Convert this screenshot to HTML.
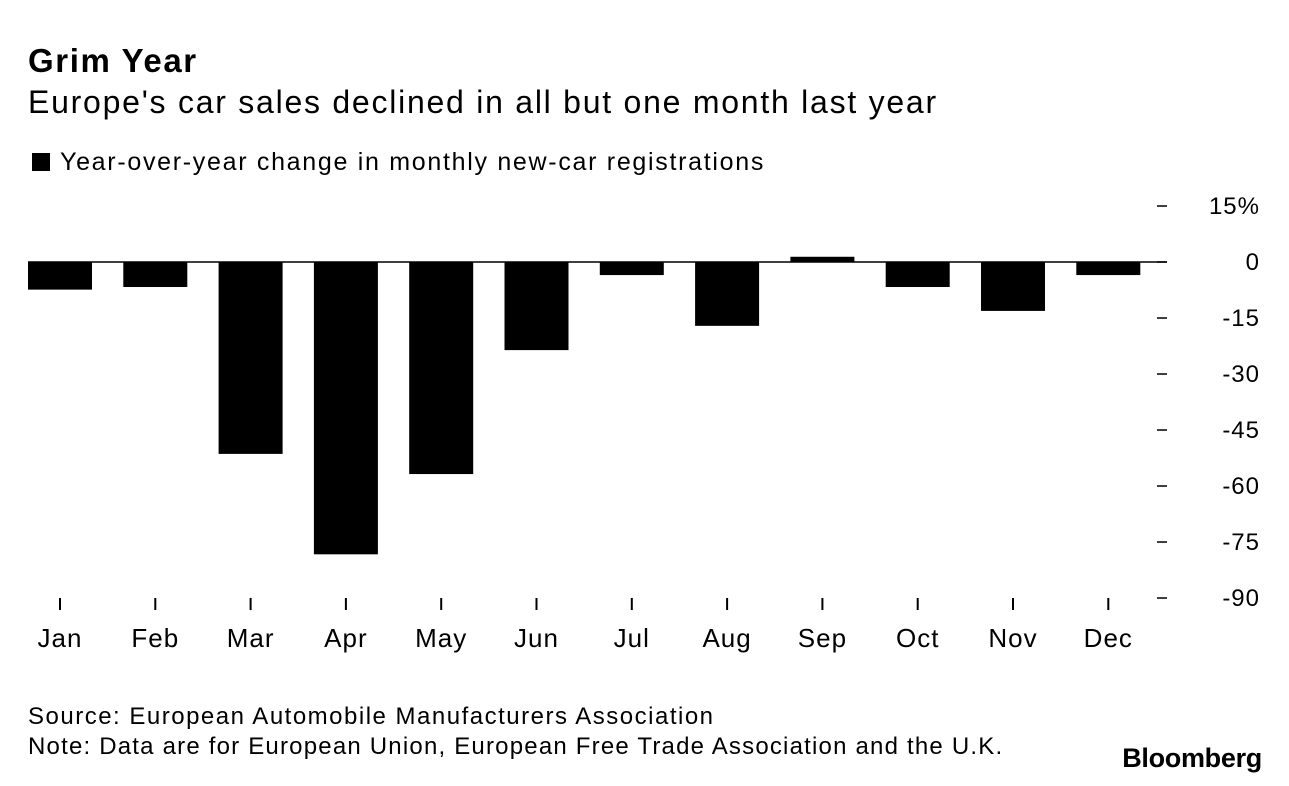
<!DOCTYPE html>
<html><head><meta charset="utf-8">
<style>
body{margin:0;background:#fff;width:1289px;height:786px;overflow:hidden;font-family:"Liberation Sans",sans-serif;color:#000}
.t{position:absolute;white-space:nowrap}
</style></head><body>
<div class="t" style="left:28px;top:42px;font-size:33px;font-weight:bold;letter-spacing:1.6px">Grim Year</div>
<div class="t" style="left:28px;top:84px;font-size:32px;letter-spacing:1.75px">Europe's car sales declined in all but one month last year</div>
<div class="t" style="left:32px;top:148px;font-size:25px;letter-spacing:1.7px"><span style="display:inline-block;width:18px;height:18px;background:#000;vertical-align:-1px;margin-right:10px"></span>Year-over-year change in monthly new-car registrations</div>
<svg id="chart" width="1289" height="786" style="position:absolute;left:0;top:0"></svg>
<div class="t" style="left:28px;top:703px;font-size:24px;letter-spacing:1.5px">Source: European Automobile Manufacturers Association</div>
<div class="t" style="left:28px;top:733px;font-size:24px;letter-spacing:1.2px">Note: Data are for European Union, European Free Trade Association and the U.K.</div>
<div class="t" style="right:27px;top:743px;font-size:27px;font-weight:bold;letter-spacing:-0.3px">Bloomberg</div>
<script>
const months=["Jan","Feb","Mar","Apr","May","Jun","Jul","Aug","Sep","Oct","Nov","Dec"];
const values=[-7.4,-6.7,-51.4,-78.3,-56.8,-23.6,-3.5,-17.1,1.4,-6.7,-13.1,-3.5];
const yTicks=[15,0,-15,-30,-45,-60,-75,-90];
const yTickLabels=["15%","0","-15","-30","-45","-60","-75","-90"];
const NS="http://www.w3.org/2000/svg";
const svg=document.getElementById('chart');
const y=v=>262-(v*56/15);
const x=i=>60+i*95.3;
const bw=64;
function mk(t,a){const e=document.createElementNS(NS,t);for(const k in a)e.setAttribute(k,a[k]);svg.appendChild(e);return e;}
yTicks.forEach((v,i)=>{
  const l=mk('line',{x1:1157,x2:1167,y1:y(v),y2:y(v),stroke:'#000','stroke-width':1.5});
  
  
  const t=mk('text',{x:1260,y:y(v)+8,'text-anchor':'end','font-size':24,'letter-spacing':1,'font-family':'Liberation Sans, sans-serif'});
  t.textContent=yTickLabels[i];
  
  
});
values.forEach((v,i)=>{
  const r=mk('rect',{x:x(i)-bw/2,y:Math.min(y(v),y(0)),width:bw,height:Math.abs(y(v)-y(0)),fill:'#000'});
  
  
  const tk=mk('line',{x1:x(i),x2:x(i),y1:598,y2:610,stroke:'#000','stroke-width':2});
  
  
  const t=mk('text',{x:x(i),y:647,'text-anchor':'middle','font-size':26,'letter-spacing':1,'font-family':'Liberation Sans, sans-serif'});
  t.textContent=months[i];
  
  
});
const z=mk('line',{x1:28,x2:1167,y1:y(0),y2:y(0),stroke:'#000','stroke-width':1.5});


</script>
</body></html>
